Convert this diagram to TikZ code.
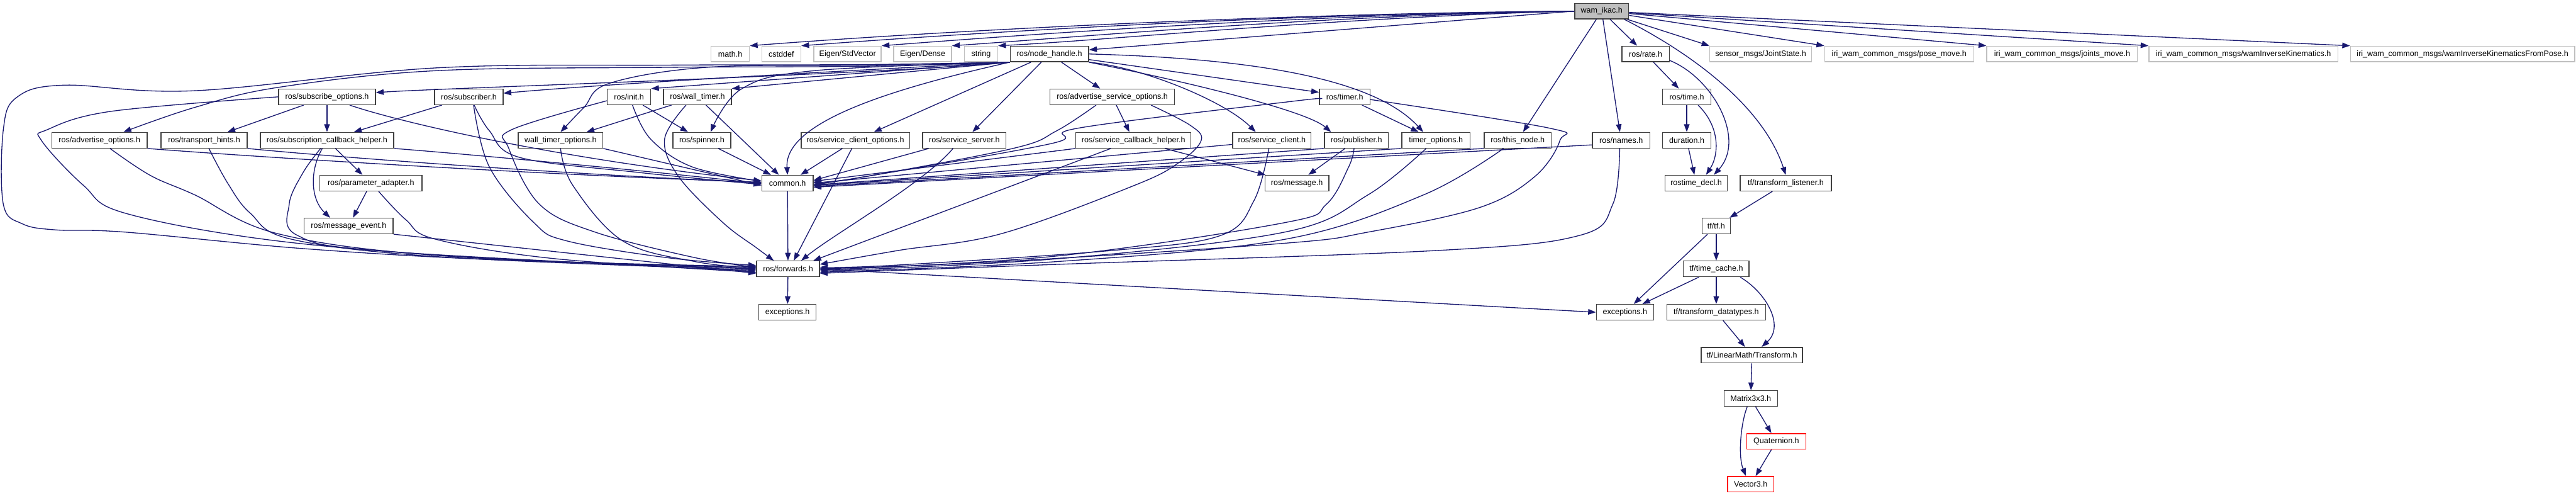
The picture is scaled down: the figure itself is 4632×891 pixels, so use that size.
\documentclass[tikz,border=0pt]{standalone}
\usepackage{fontspec}
\setmainfont{Liberation Sans}
\usetikzlibrary{arrows.meta}
\definecolor{edgec}{HTML}{191970}
\definecolor{boxc}{HTML}{404040}
\definecolor{greyc}{HTML}{BFBFBF}
\begin{document}
\begin{tikzpicture}[x=1pt,y=-1pt,
 nd/.style={draw=boxc, line width=1.6pt, fill=white, minimum height=28pt, inner sep=0pt, font=\fontsize{14.2}{17}\selectfont},
 gn/.style={nd, draw=greyc},
 rn/.style={nd, draw=red},
 root/.style={nd, fill=greyc, draw=boxc},
 e/.style={draw=edgec, line width=1.5pt, -{Triangle[length=14pt,width=10pt]}},
 sm/.style={smooth, tension=0.6}
]
\fill[white] (0,0) rectangle (4632,891);
\useasboundingbox (0,0) rectangle (4632,891);

% row 1
\node[root, minimum width=97pt] (W) at (2880,20) {wam\_ikac.h};
% row 2
\node[gn, minimum width=69pt] (math) at (1313,97) {math.h};
\node[gn, minimum width=70pt] (cst) at (1405,97) {cstddef};
\node[gn, minimum width=121pt] (stdv) at (1524,97) {Eigen/StdVector};
\node[gn, minimum width=104pt] (dense) at (1659,97) {Eigen/Dense};
\node[gn, minimum width=60pt] (str) at (1764,97) {string};
\node[nd, minimum width=141pt] (nh) at (1887,97) {ros/node\_handle.h};
\node[nd, minimum width=85pt] (rate) at (2959,97) {ros/rate.h};
\node[gn, minimum width=183pt] (js) at (3166,97) {sensor\_msgs/JointState.h};
\node[gn, minimum width=268pt] (pose) at (3415,97) {iri\_wam\_common\_msgs/pose\_move.h};
\node[gn, minimum width=271pt] (joints) at (3708,97) {iri\_wam\_common\_msgs/joints\_move.h};
\node[gn, minimum width=340pt] (wik) at (4034,97) {iri\_wam\_common\_msgs/wamInverseKinematics.h};
\node[gn, minimum width=403pt] (wikp) at (4428,97) {iri\_wam\_common\_msgs/wamInverseKinematicsFromPose.h};
% row 3
\node[nd, minimum width=174pt] (so) at (588,174) {ros/subscribe\_options.h};
\node[nd, minimum width=123pt] (sub) at (843,174) {ros/subscriber.h};
\node[nd, minimum width=78pt] (init) at (1131,174) {ros/init.h};
\node[nd, minimum width=122pt] (wt) at (1254,174) {ros/wall\_timer.h};
\node[nd, minimum width=224pt] (aso) at (2000,174) {ros/advertise\_service\_options.h};
\node[nd, minimum width=91pt] (timer) at (2418,174) {ros/timer.h};
\node[nd, minimum width=87pt] (time) at (3033,174) {ros/time.h};
% row 4
\node[nd, minimum width=171pt] (ao) at (179,252) {ros/advertise\_options.h};
\node[nd, minimum width=155pt] (th) at (367,252) {ros/transport\_hints.h};
\node[nd, minimum width=240pt] (sch) at (588,252) {ros/subscription\_callback\_helper.h};
\node[nd, minimum width=152pt] (wto) at (1008,252) {wall\_timer\_options.h};
\node[nd, minimum width=104pt] (spin) at (1262,252) {ros/spinner.h};
\node[nd, minimum width=195pt] (sco) at (1538,252) {ros/service\_client\_options.h};
\node[nd, minimum width=150pt] (ss) at (1734,252) {ros/service\_server.h};
\node[nd, minimum width=207pt] (schp) at (2038,252) {ros/service\_callback\_helper.h};
\node[nd, minimum width=141pt] (sc) at (2287,252) {ros/service\_client.h};
\node[nd, minimum width=115pt] (pub) at (2439,252) {ros/publisher.h};
\node[nd, minimum width=123pt] (to) at (2582,252) {timer\_options.h};
\node[nd, minimum width=120pt] (tn) at (2729,252) {ros/this\_node.h};
\node[nd, minimum width=103pt] (names) at (2915,252) {ros/names.h};
\node[nd, minimum width=87pt] (dur) at (3033,252) {duration.h};
% row 5
\node[nd, minimum width=184pt] (pa) at (667,329) {ros/parameter\_adapter.h};
\node[nd, minimum width=92pt] (common) at (1416,329) {common.h};
\node[nd, minimum width=115pt] (msg) at (2332,329) {ros/message.h};
\node[nd, minimum width=112pt] (rtd) at (3050,329) {rostime\_decl.h};
\node[nd, minimum width=164pt] (tl) at (3211,329) {tf/transform\_listener.h};
% row 6
\node[nd, minimum width=160pt] (me) at (627,406) {ros/message\_event.h};
\node[nd, minimum width=51pt] (tf) at (3086,406) {tf/tf.h};
% row 7
\node[nd, minimum width=113pt] (fw) at (1417,483) {ros/forwards.h};
\node[nd, minimum width=118pt] (tc) at (3086,483) {tf/time\_cache.h};
% row 8
\node[nd, minimum width=103pt] (exr) at (1416,561) {exceptions.h};
\node[nd, minimum width=103pt] (ext) at (2922,561) {exceptions.h};
\node[nd, minimum width=178pt] (td) at (3086,561) {tf/transform\_datatypes.h};
% rows 9-12
\node[nd, minimum width=182pt] (lm) at (3150,638) {tf/LinearMath/Transform.h};
\node[nd, minimum width=96pt] (m3) at (3148,716) {Matrix3x3.h};
\node[rn, minimum width=106pt] (quat) at (3194,793) {Quaternion.h};
\node[rn, minimum width=83pt] (v3) at (3148,870) {Vector3.h};

% ---- edges from wam_ikac
\draw[e] (W.west) .. controls (2300,24) and (1700,55) .. (math.north east);
\draw[e] (W.west) .. controls (2300,25) and (1760,58) .. (cst.north east);
\draw[e] (W.west) .. controls (2320,27) and (1850,62) .. (stdv.north east);
\draw[e] (W.west) .. controls (2350,29) and (1950,66) .. (dense.north east);
\draw[e] (W.west) .. controls (2400,31) and (2000,72) .. (str.north east);
\draw[e] (W.west) -- (nh.6);
\draw[e] (W) -- (rate);
\draw[e] (W) -- (tn);
\draw[e] (W) -- (names);
\draw[e] (W.-20) .. controls (3040,95) and (3170,190) .. (tl.north);
\draw[e] (W) -- (js.north west);
\draw[e] (W) -- (pose.north west);
\draw[e] (W) -- (joints.north west);
\draw[e] (W) -- (wik.north west);
\draw[e] (W) -- (wikp.north west);

% ---- time / tf part
\draw[e] (rate) -- (time);
\draw[e] (rate.-15) .. controls (3080,140) and (3140,250) .. (rtd.25);
\draw[e] (time.-36) .. controls (3095,230) and (3090,280) .. (rtd.40);
\draw[e] (time) -- (dur);
\draw[e] (dur) -- (rtd);
\draw[e] (tl) -- (tf);
\draw[e] (tf) -- (ext);
\draw[e] (tf) -- (tc);
\draw[e] (tc) -- (ext);
\draw[e] (tc) -- (td);
\draw[e] (tc.-19) .. controls (3175,525) and (3210,585) .. (lm.40);
\draw[e] (td) -- (lm);
\draw[e] (lm.-91) -- (m3);
\draw[e] (m3) -- (quat);
\draw[e] (m3.-113) .. controls (3130,760) and (3125,820) .. (v3.120);
\draw[e] (quat) -- (v3);
\draw[e] (fw) -- (exr);
\draw[e] (fw.east) -- (ext.west);
\draw[e] (common) -- (fw);

% ---- node_handle
\draw[e] (nh.south west) .. controls (1550,135) and (800,158) .. (so.5);
\draw[e] (nh.south west) .. controls (1500,128) and (1100,150) .. (sub.6);
\draw[e] (nh.south west) -- (init.north east);
\draw[e] (nh.south west) -- (wt.north east);
\draw[e] plot[sm] coordinates {(nh.south west) (1554,117) (1270,121) (1095,150) (1050,193) (wto.north)};
\draw[e] plot[sm] coordinates {(nh.south west) (1464,127) (1333,160) (spin.43)};
\draw[e] (nh.south west) .. controls (1600,160) and (1410,220) .. (common.north);
\draw[e] plot[sm] coordinates {(nh.south west) (1554,119) (1200,121) (784,127) (500,157) (350,193) (ao.19)};
\draw[e] plot[sm] coordinates {(nh.south west) (1554,116) (1200,117) (784,122) (350,163) (115,153) (30,175) (6,233) (6,367) (40,402) (100,413) (225,417) (550,447) (900,467) (fw.176)};
\draw[e] (nh) -- (sco);
\draw[e] (nh) -- (ss);
\draw[e] (nh) -- (aso);
\draw[e] (nh.south east) .. controls (2050,120) and (2200,180) .. (sc.153);
\draw[e] (nh.-8) -- (timer.170);
\draw[e] (nh.east) .. controls (2250,105) and (2470,140) .. (to.147);
\draw[e] (nh.south east) .. controls (2150,150) and (2350,200) .. (pub.162);

% ---- subscribe options group
\draw[e] plot[sm] coordinates {(so.west) (200,200) (85,233) (75,253) (150,333) (225,383) (500,433) (900,465) (fw.178)};
\draw[e] (so) -- (th);
\draw[e] (so) -- (sch);
\draw[e] (so.-20) .. controls (720,220) and (1000,285) .. (common.175);
\draw[e] (ao.south east) .. controls (500,285) and (1000,315) .. (common.178);
\draw[e] plot[sm] coordinates {(ao.-38) (270,315) (350,350) (500,420) (800,460) (fw.180)};
\draw[e] (th.south east) .. controls (600,282) and (1000,312) .. (common.179);
\draw[e] plot[sm] coordinates {(th.-60) (410,330) (450,383) (525,430) (800,462) (fw.182)};
\draw[e] (sch.south east) .. controls (780,272) and (1100,300) .. (common.181);
\draw[e] plot[sm] coordinates {(sch.-128) (545,310) (520,367) (535,423) (700,452) (fw.184)};
\draw[e] (sch.-120) .. controls (555,310) and (560,360) .. (me.156);
\draw[e] (sch) -- (pa);
\draw[e] (pa) -- (me);
\draw[e] plot[sm] coordinates {(pa.-47) (730,395) (784,430) (1000,465) (fw.186)};
\draw[e] (me.south east) -- (fw.188);

% ---- subscriber, init, wall timer
\draw[e] (sub) -- (sch);
\draw[e] plot[sm] coordinates {(sub.-57) (880,235) (935,283) (1150,310) (common.183)};
\draw[e] plot[sm] coordinates {(sub.-60) (880,300) (960,400) (1020,433) (1200,463) (fw.174)};
\draw[e] (init) -- (spin);
\draw[e] plot[sm] coordinates {(init.-67) (1170,250) (1245,300) (common.176)};
\draw[e] plot[sm] coordinates {(init.190) (920,233) (915,267) (970,367) (1070,417) (1250,463) (fw.177)};
\draw[e] (wt) -- (wto);
\draw[e] (wt) -- (common);
\draw[e] plot[sm] coordinates {(wt.-144) (1195,250) (1220,317) (1300,400) (1360,445) (fw.150)};
\draw[e] (wto.south east) -- (common.185);
\draw[e] plot[sm] coordinates {(wto.south) (1030,333) (1120,433) (1250,470) (fw.179)};
\draw[e] (spin) -- (common);

% ---- services
\draw[e] (sco) -- (common);
\draw[e] (sco.-113) -- (fw.55);
\draw[e] (ss.-167) -- (common.6);
\draw[e] (ss.-144) .. controls (1660,330) and (1500,420) .. (fw.32);
\draw[e] plot[sm] coordinates {(aso.-153) (1900,235) (1820,267) (1540,320) (common.2)};
\draw[e] (aso) -- (schp);
\draw[e] plot[sm] coordinates {(aso.-12) (2140,225) (2160,252) (2120,292) (2040,333) (1800,420) (1615,450) (fw.8)};
\draw[e] (schp.south west) -- (common.4);
\draw[e] (schp.-160) -- (fw.18);
\draw[e] (schp) -- (msg);
\draw[e] (sc.186) -- (common.0);
\draw[e] plot[sm] coordinates {(sc.-110) (2255,360) (2195,423) (2000,450) (1600,477) (fw.3)};

% ---- timer, publisher, etc.
\draw[e] (timer) -- (to);
\draw[e] plot[sm] coordinates {(timer.185) (2324,182) (1940,230) (1890,258) (1540,320) (common.-2)};
\draw[e] plot[sm] coordinates {(timer.-6) (2785,230) (2805,252) (2760,317) (2660,373) (2460,417) (2310,437) (1800,470) (fw.0)};
\draw[e] (pub) -- (msg);
\draw[e] (pub.south west) -- (common.-4);
\draw[e] plot[sm] coordinates {(pub.-106) (2425,300) (2385,367) (2310,400) (1900,460) (fw.-2)};
\draw[e] (to.south west) -- (common.-5);
\draw[e] plot[sm] coordinates {(to.-140) (2460,350) (2310,417) (1900,465) (fw.-4)};
\draw[e] (tn.south west) -- (common.-7);
\draw[e] plot[sm] coordinates {(tn.-150) (2560,350) (2310,430) (1900,470) (fw.-6)};
\draw[e] (names.189) -- (common.-9);
\draw[e] plot[sm] coordinates {(names.-100) (2900,367) (2840,423) (2585,450) (1900,475) (fw.-8)};
\end{tikzpicture}
\end{document}
